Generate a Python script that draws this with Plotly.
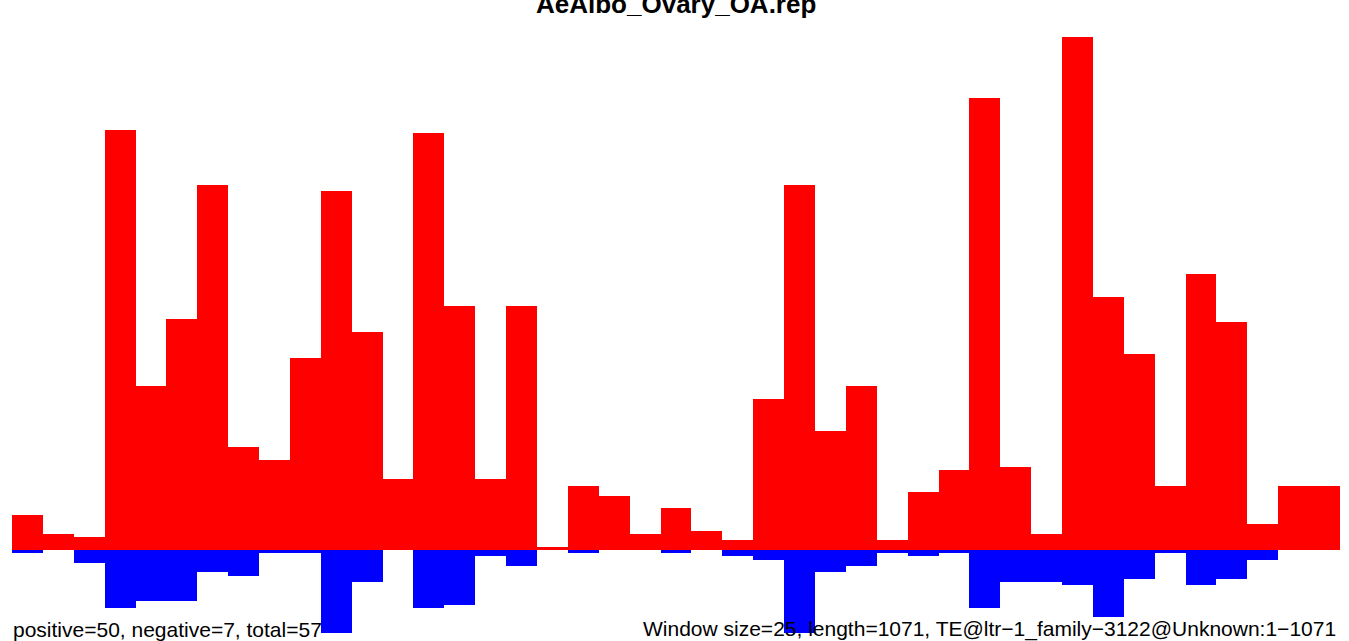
import plotly.graph_objects as go

# window index (43 windows of 25 nt over length 1071)
windows = list(range(43))

positive = [11, 5, 4, 131, 51, 72, 114, 32, 28, 60,
            112, 68, 22, 130, 76, 22, 76, 1, 20, 17,
            5, 13, 6, 3, 47, 114, 37, 51, 3, 18,
            25, 141, 26, 5, 160, 79, 61, 20, 86, 71,
            8, 20, 20]

negative = [1, 0, 4, 18, 16, 16, 7, 8, 1, 1,
            26, 10, 0, 18, 17, 2, 5, 0, 1, 0,
            0, 1, 0, 2, 3, 26, 7, 5, 1, 2,
            1, 18, 10, 10, 11, 21, 9, 1, 11, 9,
            3, 0, 0]

title_text = "AeAlbo_Ovary_OA.rep"
left_text = "positive=50, negative=7, total=57"
right_text = "Window size=25, length=1071, TE@ltr\u22121_family\u22123122@Unknown:1\u22121071"

W, H = 1349, 641
px_left, px_right = 12.0, 1340.0
unit_px = (px_right - px_left) / len(windows)
x0 = -0.5 - px_left / unit_px
x1 = len(windows) - 0.5 + (W - px_right) / unit_px

zero_px = 550.0
val_px = 3.206
y_top = zero_px / val_px
y_bot = -(H - zero_px) / val_px

fig = go.Figure()
fig.add_trace(go.Bar(x=windows, y=positive, width=1.0,
                     marker=dict(color="#FF0000", line=dict(width=0)),
                     hoverinfo="skip"))
fig.add_trace(go.Bar(x=windows, y=[-v for v in negative], width=1.0,
                     marker=dict(color="#0000FF", line=dict(width=0)),
                     hoverinfo="skip"))

font_family = "Liberation Sans, Arial, Helvetica, sans-serif"

fig.update_layout(
    width=W, height=H,
    margin=dict(l=0, r=0, t=0, b=0, pad=0),
    paper_bgcolor="white", plot_bgcolor="white",
    barmode="overlay", bargap=0,
    showlegend=False,
    xaxis=dict(range=[x0, x1], visible=False, fixedrange=True),
    yaxis=dict(range=[y_bot, y_top], visible=False, fixedrange=True),
    annotations=[
        dict(text="<b>" + title_text + "</b>", xref="paper", yref="paper",
             x=676 / W, y=1, xanchor="center", yanchor="top",
             yshift=13.5, showarrow=False,
             font=dict(family=font_family, size=26, color="black")),
        dict(text=left_text, xref="paper", yref="paper",
             x=12 / W, y=0, xanchor="left", yanchor="bottom",
             xshift=-1, yshift=-2, showarrow=False,
             font=dict(family=font_family, size=21, color="black")),
        dict(text=right_text, xref="paper", yref="paper",
             x=1337 / W, y=0, xanchor="right", yanchor="bottom",
             xshift=1, yshift=-2, showarrow=False,
             font=dict(family=font_family, size=21, color="black")),
    ],
)

fig.write_html(
    "out.html",
    config={"displayModeBar": False},
    post_script="document.body.style.margin='0';document.body.style.padding='0';"
                "document.body.style.overflow='hidden';",
)
